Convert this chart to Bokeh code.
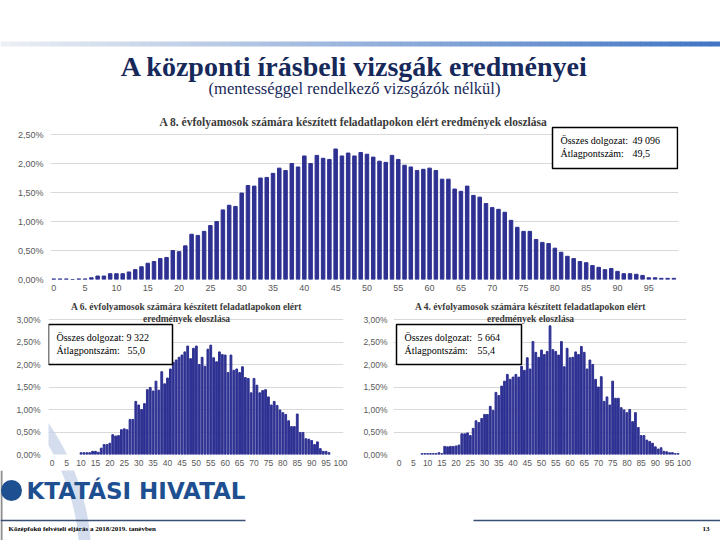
import numpy as np
from bokeh.plotting import figure
from bokeh.layouts import column, row
from bokeh.models import Range1d, FixedTicker, Label, BoxAnnotation, PolyAnnotation
from bokeh.embed import file_html
from bokeh.resources import INLINE
from bokeh.core.properties import value

# ---------------- data ----------------
TITLE = "A központi írásbeli vizsgák eredményei"
SUBTITLE = "(mentességgel rendelkező vizsgázók nélkül)"
T8 = "A 8. évfolyamosok számára készített feladatlapokon elért eredmények eloszlása"
T6 = ["A 6. évfolyamosok számára készített feladatlapokon elért", "eredmények eloszlása"]
T4 = ["A 4. évfolyamosok számára készített feladatlapokon elért", "eredmények eloszlása"]
BOX_LABELS = ["Összes dolgozat:", "Átlagpontszám:"]
BOX8 = ["49 096", "49,5"]
BOX6 = ["9 322", "55,0"]
BOX4 = ["5 664", "55,4"]
FOOTER = "Középfokú felvételi eljárás a 2018/2019. tanévben"
PAGE = "13"
LOGO = "KTATÁSI HIVATAL"

# 8th grade: scores 0..99, percent of papers
g8_x = list(range(0, 100))
g8_v = [0.01, 0.01, 0.01, 0.00, 0.01, 0.01, 0.03, 0.06, 0.06, 0.10,
        0.10, 0.10, 0.13, 0.17, 0.22, 0.28, 0.31, 0.36, 0.38, 0.50,
        0.48, 0.58, 0.78, 0.76, 0.83, 0.93, 1.00, 1.20, 1.28, 1.26,
        1.49, 1.62, 1.61, 1.75, 1.76, 1.83, 1.92, 1.88, 2.00, 1.94,
        2.13, 2.00, 2.14, 2.09, 2.07, 2.25, 2.13, 2.18, 2.13, 2.19,
        2.16, 2.11, 2.04, 2.02, 2.14, 2.07, 1.97, 1.94, 1.88, 1.90,
        1.92, 1.88, 1.73, 1.73, 1.56, 1.52, 1.61, 1.45, 1.42, 1.31,
        1.24, 1.21, 1.16, 1.02, 0.90, 0.83, 0.83, 0.69, 0.64, 0.62,
        0.54, 0.47, 0.40, 0.36, 0.31, 0.29, 0.24, 0.21, 0.17, 0.19,
        0.14, 0.10, 0.10, 0.09, 0.07, 0.03, 0.03, 0.02, 0.02, 0.02]

# 6th grade: scores 10..96
g6_x = list(range(10, 97))
g6_v = [0.04, 0.04, 0.04, 0.04, 0.07, 0.07, 0.05, 0.14, 0.22, 0.22,
        0.25, 0.44, 0.41, 0.42, 0.55, 0.57, 0.55, 0.78, 0.78, 1.18,
        1.10, 1.00, 1.13, 1.44, 1.49, 1.41, 1.63, 1.43, 1.84, 1.57,
        1.70, 1.90, 2.05, 2.10, 2.16, 2.21, 2.28, 2.41, 2.13, 2.36,
        2.41, 2.00, 2.16, 1.96, 2.34, 2.43, 2.15, 2.06, 2.28, 2.22,
        2.21, 1.82, 2.21, 1.87, 1.90, 1.82, 1.95, 1.71, 1.69, 1.37,
        1.69, 1.54, 1.37, 1.42, 1.44, 1.28, 1.10, 1.18, 1.09, 0.99,
        0.93, 0.89, 0.75, 0.62, 0.62, 0.90, 0.49, 0.49, 0.35, 0.34,
        0.31, 0.22, 0.28, 0.13, 0.07, 0.07, 0.04]

# 4th grade: scores 8..98
g4_x = list(range(8, 99))
g4_v = [0.02, 0.02, 0.02, 0.02, 0.02, 0.02, 0.04, 0.02, 0.18, 0.17,
        0.18, 0.18, 0.19, 0.21, 0.46, 0.46, 0.48, 0.42, 0.58, 0.75,
        0.71, 0.80, 0.89, 0.89, 1.07, 0.98, 1.38, 1.31, 1.52, 1.63,
        1.78, 1.67, 1.72, 1.78, 1.72, 1.96, 1.87, 2.15, 1.90, 2.51,
        2.27, 2.16, 2.32, 2.22, 2.29, 2.86, 2.33, 2.29, 2.21, 2.51,
        1.95, 2.36, 2.15, 2.16, 2.28, 2.22, 2.40, 2.27, 1.90, 2.10,
        2.00, 1.67, 1.50, 1.73, 1.18, 1.28, 1.10, 1.63, 1.25, 1.25,
        1.04, 0.99, 0.93, 1.00, 0.73, 0.93, 0.60, 0.42, 0.42, 0.32,
        0.29, 0.25, 0.17, 0.12, 0.15, 0.07, 0.06, 0.04, 0.04, 0.02,
        0.02]

Y8_TICKS = [0, 0.5, 1.0, 1.5, 2.0, 2.5]
Y64_TICKS = [0, 0.5, 1.0, 1.5, 2.0, 2.5, 3.0]
X8_TICKS = list(range(0, 100, 5))
X64_TICKS = list(range(0, 101, 5))

# ---------------- styles ----------------
BAR = "#2e3192"
GRID = "#d9d9d9"
TICK_COL = "#595959"
NAVY = "#17295a"
SERIF = "Liberation Serif"
SANS = "Liberation Sans"
ARC_COL = "#c6d1e7"


def no_align(p):
    if "frame_align" in p.properties():
        p.frame_align = False


def pct(t):
    return ("%.2f%%" % t).replace(".", ",")


def bar_chart(w, h, xs, vs, xr, yr, yticks, xticks, bl, br, bt, bb, bw, tick_fs, ystand):
    p = figure(width=w, height=h, output_backend="svg", toolbar_location=None,
               x_range=Range1d(*xr), y_range=Range1d(*yr),
               min_border_left=bl, min_border_right=br,
               min_border_top=bt, min_border_bottom=bb)
    no_align(p)
    p.outline_line_color = None
    p.background_fill_color = None
    p.border_fill_color = None
    p.xgrid.visible = False
    p.ygrid.grid_line_color = GRID
    p.ygrid.grid_line_width = 1
    p.ygrid.ticker = FixedTicker(ticks=yticks)
    p.vbar(x=xs, top=vs, width=bw, color=BAR)
    p.yaxis.ticker = FixedTicker(ticks=yticks)
    p.yaxis.major_label_overrides = {float(t): pct(t) for t in yticks}
    p.xaxis.ticker = FixedTicker(ticks=xticks)
    for ax in (p.xaxis[0], p.yaxis[0]):
        ax.axis_line_color = None
        ax.major_tick_line_color = None
        ax.minor_tick_line_color = None
        ax.major_tick_out = 0
        ax.major_tick_in = 0
        ax.major_label_text_font = SANS
        ax.major_label_text_font_size = tick_fs
        ax.major_label_text_color = TICK_COL
    p.yaxis.major_label_standoff = ystand
    p.xaxis.major_label_standoff = 5
    return p


def add_box(p, fl, fb, box, labels, vals, vxs, fs):
    # box/labels given in page pixels; converted to frame-relative screen units
    l, t, r, b = box
    p.add_layout(BoxAnnotation(left=l - fl, right=r - fl, top=fb - t, bottom=fb - b,
                               left_units="screen", right_units="screen",
                               top_units="screen", bottom_units="screen",
                               fill_color="white", fill_alpha=1.0,
                               line_color="black", line_alpha=1.0, line_width=1.5,
                               level="overlay"))
    ys = [t + 12.5, t + 25.5]
    for lab, v, y, vx in zip(labels, vals, ys, vxs):
        p.add_layout(Label(x=l + 8 - fl, y=fb - y, x_units="screen", y_units="screen",
                           text=lab, text_font=SERIF, text_font_size=fs,
                           text_color="black", text_baseline="middle", level="overlay"))
        p.add_layout(Label(x=vx - fl, y=fb - y, x_units="screen", y_units="screen",
                           text=v, text_font=SERIF, text_font_size=fs,
                           text_color="black", text_baseline="middle", level="overlay"))


def add_title(p, fl, fb, cx, lines, ys, fs):
    for txt, y in zip(lines, ys):
        p.add_layout(Label(x=cx - fl, y=fb - y, x_units="screen", y_units="screen",
                           text=txt, text_font=SERIF, text_font_style="bold",
                           text_font_size=fs, text_color="#3a3a3a",
                           text_align="center", text_baseline="middle", level="overlay"))


def deco_fig(w, h, x0, x1, y0, y1):
    p = figure(width=w, height=h, output_backend="svg", toolbar_location=None,
               x_range=Range1d(x0, x1), y_range=Range1d(y1, y0),
               x_axis_type=None, y_axis_type=None,
               min_border=0, min_border_left=0, min_border_right=0,
               min_border_top=0, min_border_bottom=0)
    no_align(p)
    p.outline_line_color = None
    p.grid.visible = False
    p.background_fill_color = None
    p.border_fill_color = None
    return p


# decorative big "O" arc of the logo (page pixel geometry)
ARC_C = (-150.0, 560.0)
ARC_R = 235.0
ARC_W = 6.0


def arc_poly(t0, t1):
    t = np.linspace(t0, t1, 40)
    xo = ARC_C[0] + (ARC_R + ARC_W) * np.cos(t)
    yo = ARC_C[1] + (ARC_R + ARC_W) * np.sin(t)
    xi = ARC_C[0] + (ARC_R - ARC_W) * np.cos(t[::-1])
    yi = ARC_C[1] + (ARC_R - ARC_W) * np.sin(t[::-1])
    return list(np.concatenate([xo, xi])), list(np.concatenate([yo, yi]))


# ---------------- header ----------------
head = deco_fig(720, 105, 0, 720, 0, 105)
n = 72
gx0 = [i * 720 / n for i in range(n)]
gx1 = [(i + 1) * 720 / n + 0.5 for i in range(n)]
cols = []
for i in range(n):
    f = i / (n - 1)
    r = int(236 + (66 - 236) * f)
    g = int(239 + (118 - 239) * f)
    b = int(244 + (196 - 244) * f)
    cols.append("#%02x%02x%02x" % (r, g, b))
head.quad(left=gx0, right=gx1, top=[41] * n, bottom=[46] * n, color=cols, line_color=None)
head.text(x=[354], y=[66], text=[TITLE], text_align="center", text_baseline="middle",
          text_font=value(SERIF), text_font_style="bold", text_font_size="28px",
          text_color=NAVY)
head.text(x=[354], y=[88], text=[SUBTITLE], text_align="center", text_baseline="middle",
          text_font=value(SERIF), text_font_size="16.5px", text_color=NAVY)

# ---------------- top chart (8th grade) ----------------
# frame spans page y 110..279; gridlines only at the 0..2,5% ticks
FL8, FB8 = 50, 279
Y8_TOP = 2.5 * (FB8 - 110) / 145.0
p8 = bar_chart(720, 192, g8_x, g8_v, (-0.527, 99.74), (0, Y8_TOP), Y8_TICKS, X8_TICKS,
               50, 42, 5, 18, 0.56, "9px", 7)
add_title(p8, FL8, FB8, 353, [T8], [121], "11.5px")
add_box(p8, FL8, FB8, (552, 127, 677, 168), BOX_LABELS, BOX8, [632, 632], "10px")

# ---------------- bottom left (6th grade) ----------------
FL6, FB6 = 48, 454
Y64_TOP = 3.0 * (FB6 - 298) / 135.0
p6 = bar_chart(360, 173, g6_x, g6_v, (-1.28, 101.04), (0, Y64_TOP), Y64_TICKS, X64_TICKS,
               48, 17, 1, 16, 0.62, "8.5px", 8)
axs, ays = arc_poly(-0.88, -0.36)
p6.add_layout(PolyAnnotation(xs=[x - FL6 for x in axs], ys=[FB6 - y for y in ays],
                             xs_units="screen", ys_units="screen",
                             fill_color=ARC_COL, fill_alpha=0.75, line_color=None,
                             level="underlay"))
add_title(p6, FL6, FB6, 186, T6, [306, 318], "9.5px")
add_box(p6, FL6, FB6, (48, 324, 172, 364), BOX_LABELS, BOX6, [126, 127], "10px")

# ---------------- bottom right (4th grade) ----------------
FL4, FB4 = 391, 454
p4 = bar_chart(360, 173, g4_x, g4_v, (-1.99, 100.94), (0, Y64_TOP), Y64_TICKS, X64_TICKS,
               31, 34, 1, 16, 0.62, "8.5px", 6)
add_title(p4, FL4, FB4, 528, T4, [306, 318], "9.5px")
add_box(p4, FL4, FB4, (394, 324, 519, 364), BOX_LABELS, BOX4, [475, 475], "10px")

# ---------------- footer ----------------
foot = deco_fig(720, 70, 0, 720, 470, 540)
fxs, fys = arc_poly(-0.42, 0.0)
foot.patch(x=fxs, y=fys, fill_color=ARC_COL, fill_alpha=0.75, line_color=None)
foot.quad(left=[0], right=[2], top=[470], bottom=[540], color="#8c8c8c", line_color=None)
foot.scatter(x=[11], y=[490], size=21, color="#1d4f91", line_color=None)
foot.text(x=[26], y=[490], text=[LOGO], text_baseline="middle", text_font=value("DejaVu Sans"),
          text_font_style="bold", text_font_size="23px", text_color="#1d4f91")
foot.segment(x0=[0, 473], y0=[520, 520], x1=[245, 720], y1=[520, 520],
             line_color="#3b4f73", line_width=1.5)
foot.text(x=[8], y=[528], text=[FOOTER], text_baseline="middle", text_font=value(SERIF),
          text_font_style="bold", text_font_size="7px", text_color="black")
foot.text(x=[709], y=[528], text=[PAGE], text_align="right", text_baseline="middle",
          text_font=value(SERIF), text_font_style="bold", text_font_size="7px",
          text_color="black")

layout = column(head, p8, row(p6, p4, spacing=0), foot, spacing=0)
open("out.html", "w").write(file_html(layout, INLINE))
